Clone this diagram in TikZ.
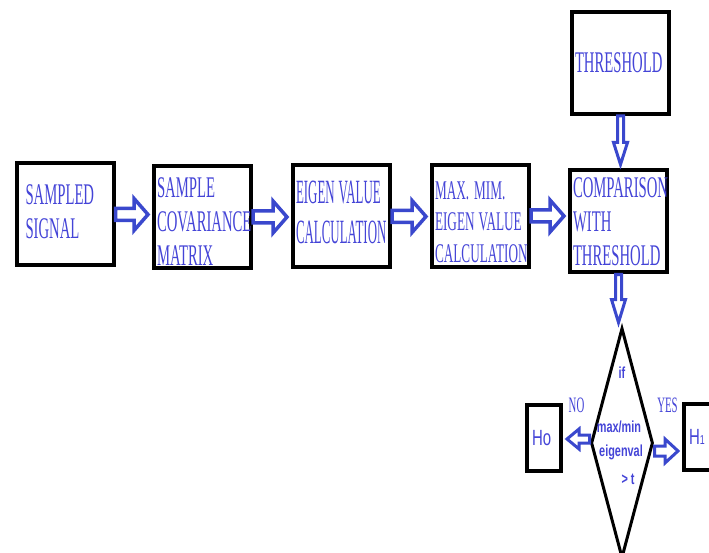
\documentclass[tikz,border=0pt]{standalone}
\usepackage{fontspec}
\usetikzlibrary{calc,shapes.geometric}
\newfontfamily\boxfont[FakeStretch=0.49]{Liberation Serif}
\newfontfamily\tallfont[FakeStretch=0.38]{Liberation Serif}
\newfontfamily\condsans[FakeStretch=0.68]{Liberation Sans}
\definecolor{txtblue}{RGB}{68,68,215}
\definecolor{arrblue}{RGB}{58,72,205}
\tikzset{
  stage/.style={draw, line width=4pt, inner sep=0pt, minimum width=97pt, minimum height=102pt,
    text width=91pt, align=left, text=txtblue, font=\boxfont\fontsize{30}{34}\selectfont},
  hyp/.style={draw, line width=4pt, inner sep=0pt, minimum width=34pt, minimum height=66pt,
    text width=24pt, align=left, text=txtblue, font=\condsans\fontsize{22}{24}\selectfont},
  cond/.style={anchor=base, inner sep=0pt, text=txtblue, font=\condsans\bfseries\fontsize{16}{18}\selectfont},
  branch/.style={anchor=base, inner sep=0pt, text=txtblue, font=\boxfont\fontsize{22}{24}\selectfont},
  flowarrow/.style={draw=arrblue, fill=white, line width=3.5pt},
}
% 中抜きの太矢印: [オプション]{始点}{終点}{軸の半幅}{頭の半幅}{頭の長さ}
\newcommand\hollowarrow[6][]{%
  \draw[flowarrow,#1] let \p1=(#2), \p2=(#3),
    \n1={atan2(\y2-\y1,\x2-\x1)}, \n2={veclen(\x2-\x1,\y2-\y1)-4} in
    [shift={(\p1)}, rotate=\n1]
    (0,#4) -- ({\n2-#6},#4) -- ({\n2-#6},#5) -- (\n2,0)
    -- ({\n2-#6},-#5) -- ({\n2-#6},-#4) -- (0,-#4) -- cycle;}
\begin{document}
\begin{tikzpicture}[x=1pt,y=-1pt]
  \useasboundingbox (0,0) rectangle (709,553);
  \clip (0,0) rectangle (709,553);
  % 処理ブロック (文字位置は \rule で上下に寄せる)
  \node[stage, text width=79pt] (sig) at (65,214.5) {SAMPLED\\SIGNAL\rule[-6pt]{0pt}{6pt}};
  \node[stage] (cov) at (202.5,217) {\rule{0pt}{29pt}SAMPLE\\COVARIANCE\\MATRIX};
  \node[stage, font=\tallfont\fontsize{34}{40}\selectfont] (eig) at (341.5,216.5)
    {\mbox{EIGEN\hspace{4pt}VALUE}\\CALCULATION\rule[-8pt]{0pt}{8pt}};
  \node[stage, font=\boxfont\fontsize{27}{31.5}\selectfont] (mm) at (480.5,216)
    {\rule{0pt}{30pt}\mbox{MAX.\hspace{5pt}MIM.}\\\mbox{EIGEN\hspace{4pt}VALUE}\\CALCULATION};
  \node[stage] (cmp) at (618.5,221.5) {COMPARISON\\WITH\\THRESHOLD};
  \node[stage] (thr) at (620.5,63) {THRESHOLD};
  % 判定 (ひし形は下端が切れる)
  \node[draw, diamond, line width=3pt, inner sep=0pt, minimum width=62pt, minimum height=230pt] (dec) at (622,443) {};
  \node[cond] (cif) at (622,378) {if};
  \node[cond] (cratio) at (619,432) {max/min};
  \node[cond] (cval) at (621,456) {eigenval};
  \node[cond] (cthr) at (628,484) {> t};
  \node[hyp] (h0) at (544,438) {Ho};
  \node[hyp] (h1) at (701,436.5) {H{\fontsize{13}{13}\selectfont 1}};
  \node[branch] (no) at (576.5,412) {NO};
  \node[branch] (yes) at (667.5,412) {YES};
  \coordinate (nofrom) at ([yshift=4pt]dec.west);
  \coordinate (yesfrom) at ([yshift=-8pt]dec.east);
  % 矢印
  \hollowarrow{sig.east}{sig.east -| cov.west}{6}{16}{14}
  \hollowarrow{cov.east}{cov.east -| eig.west}{6}{16}{14}
  \hollowarrow{eig.east}{eig.east -| mm.west}{6}{16}{14}
  \hollowarrow{mm.east}{mm.east -| cmp.west}{6}{16}{14}
  \hollowarrow[line width=3pt]{thr.south}{thr.south |- cmp.north}{3}{7}{22}
  \hollowarrow[line width=3pt]{cmp.south}{cmp.south |- dec.north}{3}{7}{23}
  \hollowarrow[line width=3pt]{nofrom}{nofrom -| h0.east}{4}{10}{12}
  \hollowarrow[line width=3pt]{yesfrom}{yesfrom -| h1.west}{5}{12}{13}
\end{tikzpicture}
\end{document}
